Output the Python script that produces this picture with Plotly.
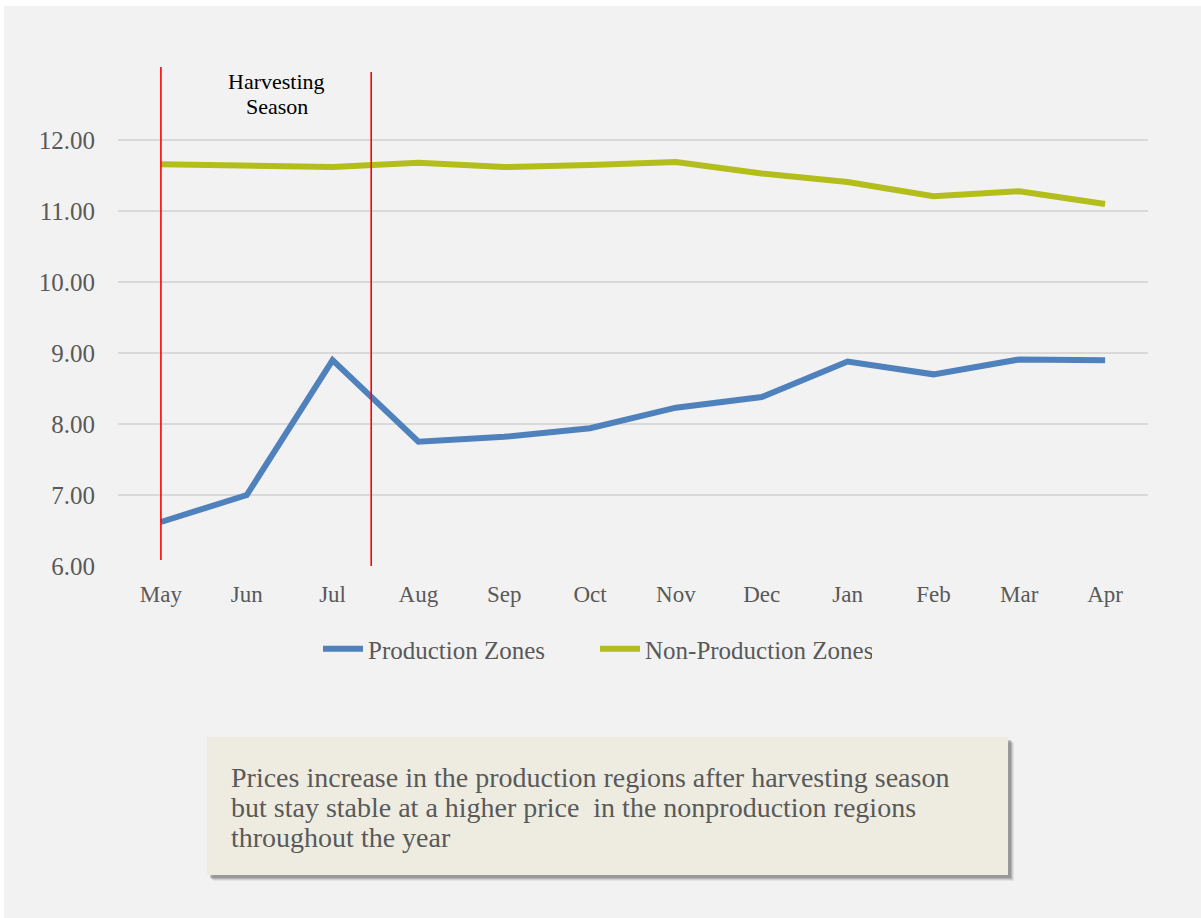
import plotly.graph_objects as go

# Monthly prices, May through April
months = ["May", "Jun", "Jul", "Aug", "Sep", "Oct", "Nov", "Dec", "Jan", "Feb", "Mar", "Apr"]
production = [6.62, 7.00, 8.90, 7.75, 7.82, 7.94, 8.23, 8.38, 8.88, 8.70, 8.91, 8.90]
non_production = [11.66, 11.64, 11.62, 11.68, 11.62, 11.65, 11.69, 11.53, 11.41, 11.21, 11.28, 11.10]
y_ticks = [6, 7, 8, 9, 10, 11, 12]
y_tick_labels = ["6.00", "7.00", "8.00", "9.00", "10.00", "11.00", "12.00"]
note_lines = [
    "Prices increase in the production regions after harvesting season",
    "but stay stable at a higher price  in the nonproduction regions",
    "throughout the year",
]

# Harvest-season markers (category index positions)
harvest_start = 0.0
harvest_end = 2.45

W, H = 1201, 918
ML, MR, MT, MB = 118, 53, 62, 352
PW, PH = W - ML - MR, H - MT - MB


def px_x(px):
    return (px - ML) / PW


def px_y(py):
    return (H - MB - py) / PH


FONT = "Liberation Serif"
GREY_TEXT = "#595959"

fig = go.Figure()
fig.add_trace(go.Scatter(
    x=months, y=production, mode="lines", name="Production Zones",
    line=dict(color="#4f81bd", width=6),
))
fig.add_trace(go.Scatter(
    x=months, y=non_production, mode="lines", name="Non-Production Zones",
    line=dict(color="#b3bd1c", width=6),
))

shapes = [
    # grey panel behind the chart
    dict(type="rect", xref="paper", yref="paper", layer="below",
         x0=px_x(4), x1=px_x(1210), y0=px_y(930), y1=px_y(6),
         fillcolor="#f2f2f2", line=dict(width=0)),
    # harvest-season boundaries
    dict(type="line", xref="x", yref="y", x0=harvest_start, x1=harvest_start,
         y0=6.085, y1=13.03, line=dict(color="#ff0000", width=1.6)),
    dict(type="line", xref="x", yref="y", x0=harvest_end, x1=harvest_end,
         y0=6.0, y1=12.96, line=dict(color="#ff0000", width=1.6)),
]

# note box with a soft drop shadow
for off, op in [(6, 0.10), (5, 0.15), (4, 0.22), (3, 0.30)]:
    shapes.append(dict(type="rect", xref="paper", yref="paper", layer="above",
                       x0=px_x(207 + off), x1=px_x(1008 + off),
                       y0=px_y(875 + off), y1=px_y(737 + off),
                       fillcolor=f"rgba(90,90,90,{op})", line=dict(width=0)))
shapes.append(dict(type="rect", xref="paper", yref="paper", layer="above",
                   x0=px_x(207), x1=px_x(1008), y0=px_y(875), y1=px_y(737),
                   fillcolor="#eeece1", line=dict(width=0)))

annotations = [
    dict(x=1.35, y=12.66, xref="x", yref="y", text="Harvesting",
         showarrow=False, font=dict(family=FONT, size=22, color="#000000"),
         xanchor="center", yanchor="middle", yshift=12),
    dict(x=1.35, y=12.66, xref="x", yref="y", text="Season",
         showarrow=False, font=dict(family=FONT, size=22, color="#000000"),
         xanchor="center", yanchor="middle", yshift=-13),
]
for i, line in enumerate(note_lines):
    annotations.append(dict(
        x=px_x(229), y=px_y(777 + 30.5 * i), xref="paper", yref="paper",
        text=line, showarrow=False, align="left", xanchor="left", yanchor="middle",
        font=dict(family=FONT, size=28, color=GREY_TEXT)))

fig.update_layout(
    width=W, height=H,
    margin=dict(l=ML, r=MR, t=MT, b=MB, pad=0),
    paper_bgcolor="#ffffff",
    plot_bgcolor="rgba(0,0,0,0)",
    font=dict(family=FONT, size=22, color=GREY_TEXT),
    shapes=shapes,
    annotations=annotations,
    showlegend=True,
    legend=dict(orientation="h", x=px_x(318), y=px_y(649), xanchor="left", yanchor="middle",
                bgcolor="rgba(0,0,0,0)", font=dict(family=FONT, size=25, color=GREY_TEXT),
                itemwidth=40, tracegroupgap=0, entrywidth=222, entrywidthmode="pixels"),
    xaxis=dict(type="category", range=[-0.5, 11.5], showgrid=False, zeroline=False,
               showline=False, ticks="", ticklabelstandoff=12,
               tickfont=dict(family=FONT, size=23, color=GREY_TEXT)),
    yaxis=dict(range=[6, 13.1], tickvals=y_ticks, ticktext=y_tick_labels,
               showgrid=True, gridcolor="#d9d9d9", gridwidth=2, zeroline=False,
               showline=False, ticks="", ticklabelstandoff=22,
               tickfont=dict(family=FONT, size=25, color=GREY_TEXT)),
)

fig.write_html("out.html")
